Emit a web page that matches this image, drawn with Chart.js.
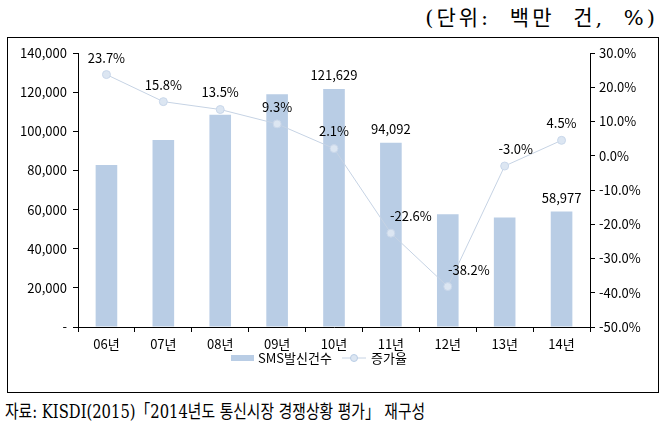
<!DOCTYPE html>
<html lang="ko">
<head>
<meta charset="UTF-8">
<title>SMS 발신건수</title>
<script src="https://cdn.jsdelivr.net/npm/chart.js"></script>
<style>
    body { margin: 0; background: #fff; width: 666px; height: 438px; position: relative; overflow: hidden; }
    .unit { position: absolute; right: 8px; top: 1px; font: 21px "DejaVu Serif", "Noto Sans CJK KR", serif; color: #000; letter-spacing: 3px; word-spacing: 9px; }
    .box { position: absolute; left: 7px; top: 37px; width: 650px; height: 354px; border: 1px solid #000; }
    .box canvas { display: block; }
    .source { position: absolute; left: 5px; top: 397px; font: 18px "DejaVu Serif", "Noto Sans CJK KR", serif; color: #000; white-space: nowrap; transform: scaleX(0.82); transform-origin: left top; }
</style>
</head>
<body>
<div class="unit">(단위: 백만 건, %)</div>
<div class="box"><canvas id="grafico" width="650" height="354"></canvas></div>
<div class="source">자료: KISDI(2015)「2014년도 통신시장 경쟁상황 평가」 재구성</div>

<script>
    // dados
    const anos = ['06년', '07년', '08년', '09년', '10년', '11년', '12년', '13년', '14년'];
    const smsBalsin = [82800, 95600, 108500, 118900, 121629, 94092, 57600, 56000, 58977];
    const jeunggaYul = [23.7, 15.8, 13.5, 9.3, 2.1, -22.6, -38.2, -3.0, 4.5];
    // quais barras mostram o valor
    const rotuloBarra = [false, false, false, false, true, true, false, false, true];
    // deslocamento horizontal dos rotulos da linha
    const rotuloLinhaDx = [0, 0, 0, 0, 0, 20, 21, 11, 0];

    const fonte = '"Noto Sans CJK KR", sans-serif';
    const corBarra = '#b9cde5';
    const corLinha = '#c6d3e4';

    const rotulos = {
        id: 'rotulos',
        afterDatasetsDraw(chart) {
            const ctx = chart.ctx;
            ctx.save();
            ctx.font = '13px ' + fonte;
            ctx.fillStyle = '#000';
            ctx.textAlign = 'center';
            ctx.textBaseline = 'middle';
            chart.getDatasetMeta(0).data.forEach((el, i) => {
                if (rotuloBarra[i]) ctx.fillText(smsBalsin[i].toLocaleString('en-US'), el.x, el.y - 14);
            });
            chart.getDatasetMeta(1).data.forEach((el, i) => {
                ctx.fillText(jeunggaYul[i].toFixed(1) + '%', el.x + rotuloLinhaDx[i], el.y - 17);
            });

            // legenda
            const ly = 320;
            ctx.fillStyle = corBarra;
            ctx.fillRect(223, ly - 3, 23, 6);
            ctx.fillStyle = '#000';
            ctx.textAlign = 'left';
            ctx.fillText('SMS발신건수', 250, ly);
            ctx.strokeStyle = corLinha;
            ctx.lineWidth = 1;
            ctx.beginPath();
            ctx.moveTo(334, ly);
            ctx.lineTo(358, ly);
            ctx.stroke();
            ctx.beginPath();
            ctx.arc(346, ly, 3.5, 0, Math.PI * 2);
            ctx.fillStyle = '#dce6f2';
            ctx.fill();
            ctx.strokeStyle = corBarra;
            ctx.stroke();
            ctx.fillStyle = '#000';
            ctx.fillText('증가율', 363, ly);
            ctx.restore();
        }
    };

    new Chart(document.getElementById('grafico'), {
        data: {
            labels: anos,
            datasets: [{
                type: 'bar',
                label: 'SMS발신건수',
                data: smsBalsin,
                backgroundColor: corBarra,
                yAxisID: 'y',
                barPercentage: 0.38,
                categoryPercentage: 1,
                order: 2
            }, {
                type: 'line',
                label: '증가율',
                data: jeunggaYul,
                borderColor: corLinha,
                borderWidth: 1,
                pointRadius: 4,
                pointBackgroundColor: '#dce6f2',
                pointBorderColor: '#c9d7ea',
                pointBorderWidth: 1,
                yAxisID: 'y1',
                order: 1
            }]
        },
        options: {
            responsive: false,
            animation: false,
            devicePixelRatio: 1,
            layout: { padding: { top: 15, bottom: 0, left: 0, right: 0 } },
            plugins: {
                legend: { display: false },
                tooltip: { enabled: false }
            },
            scales: {
                x: {
                    grid: { color: '#000', drawOnChartArea: false, tickLength: 5, offset: true },
                    border: { color: '#000' },
                    ticks: { color: '#000', font: { family: fonte, size: 13 }, padding: 4, maxRotation: 0, autoSkip: false },
                    afterFit: s => { s.height = 65; }
                },
                y: {
                    position: 'left',
                    min: 0, max: 140000,
                    grid: { color: '#000', drawOnChartArea: false, tickLength: 5 },
                    border: { color: '#000' },
                    ticks: {
                        stepSize: 20000, color: '#000', font: { family: fonte, size: 13 }, padding: 6,
                        callback: v => v === 0 ? '-' : v.toLocaleString('en-US')
                    },
                    afterFit: s => { s.width = 70; }
                },
                y1: {
                    position: 'right',
                    min: -50, max: 30,
                    grid: { color: '#000', drawOnChartArea: false, tickLength: 5 },
                    border: { color: '#000' },
                    ticks: {
                        stepSize: 10, color: '#000', font: { family: fonte, size: 13 }, padding: 4,
                        callback: v => v.toFixed(1) + '%'
                    },
                    afterFit: s => { s.width = 68; }
                }
            }
        },
        plugins: [rotulos]
    });
</script>
</body>
</html>
